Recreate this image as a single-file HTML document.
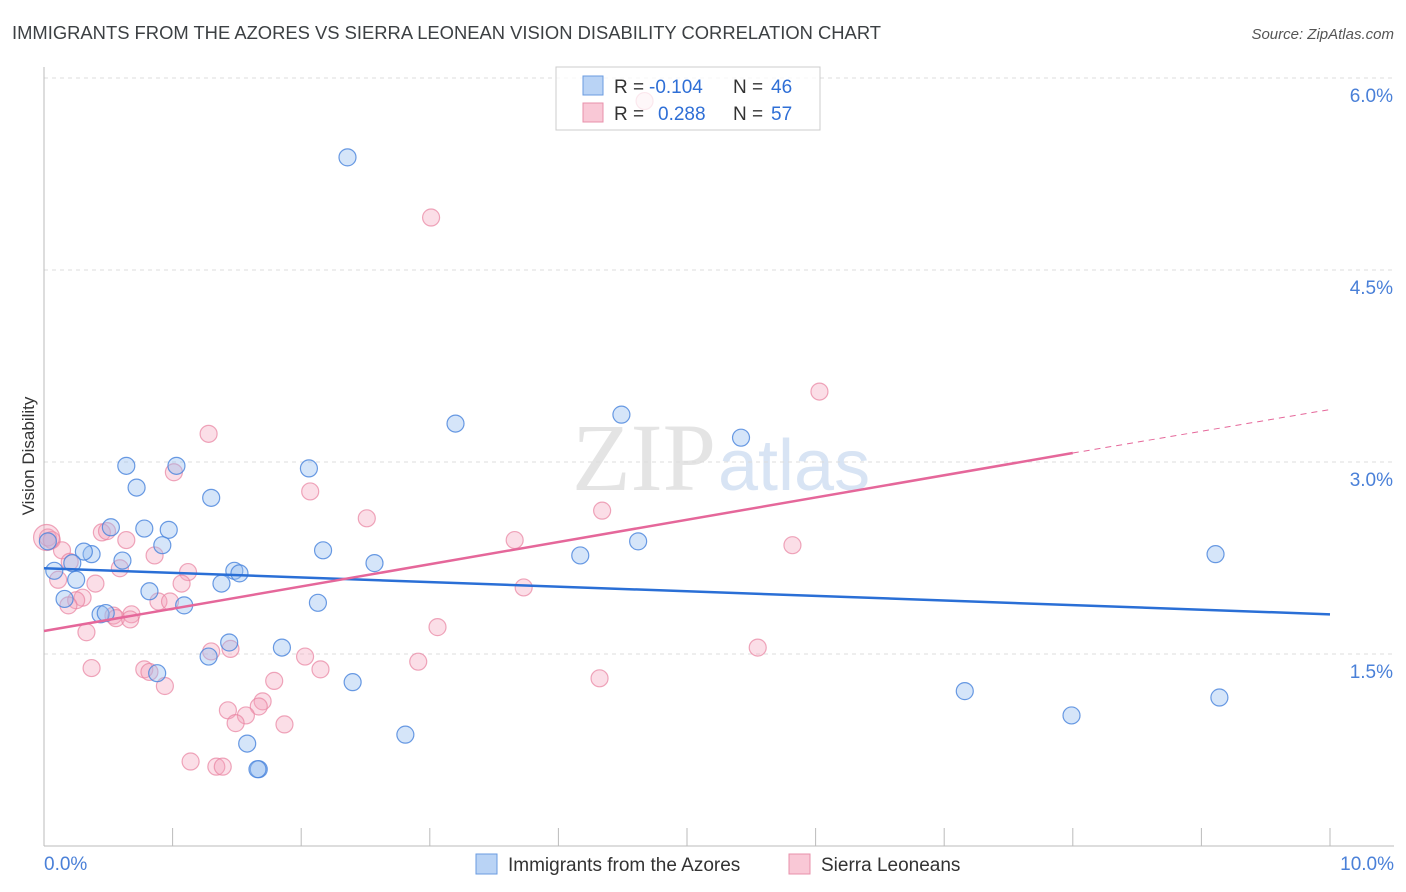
<!DOCTYPE html>
<html><head><meta charset="utf-8"><style>
body{margin:0;background:#fff;font-family:"Liberation Sans",sans-serif;}
svg{display:block}
</style></head><body>
<svg id="chart" width="1406" height="892" xmlns="http://www.w3.org/2000/svg" font-family="Liberation Sans, sans-serif">
<text x="12" y="39" font-size="18" fill="#3c4043" textLength="869" lengthAdjust="spacingAndGlyphs">IMMIGRANTS FROM THE AZORES VS SIERRA LEONEAN VISION DISABILITY CORRELATION CHART</text>
<text x="1394" y="39" font-size="15" fill="#555" font-style="italic" text-anchor="end">Source: ZipAtlas.com</text>
<text x="716" y="490" font-size="96" fill="#e4e4e4" text-anchor="end" font-family="Liberation Serif, serif">ZIP</text>
<text x="718" y="490" font-size="72" fill="#d8e4f4">atlas</text>
<g id="grid"></g>
<g id="axes"></g>
<g id="pts"></g>
<g id="trend"></g>
<text transform="translate(34,456) rotate(-90)" font-size="17" fill="#333" text-anchor="middle">Vision Disability</text>
<g>
<rect x="556" y="67" width="264" height="63" fill="rgba(255,255,255,0.75)" stroke="#ccc"/>
<rect x="583" y="76" width="20" height="19" fill="#b9d3f5" stroke="#6a9be0"/>
<rect x="583" y="103" width="20" height="19" fill="#f9c8d6" stroke="#e890ab"/>
<text x="614" y="93" font-size="19" fill="#333">R =</text>
<text x="649" y="93" font-size="19" fill="#2f6fd6">-0.104</text>
<text x="733" y="93" font-size="19" fill="#333">N =</text>
<text x="771" y="93" font-size="19" fill="#2f6fd6">46</text>
<text x="614" y="120" font-size="19" fill="#333">R =</text>
<text x="658" y="120" font-size="19" fill="#2f6fd6">0.288</text>
<text x="733" y="120" font-size="19" fill="#333">N =</text>
<text x="771" y="120" font-size="19" fill="#2f6fd6">57</text>
</g>
<g>
<rect x="476" y="854" width="21" height="20" fill="#b9d3f5" stroke="#6a9be0"/>
<text x="508" y="871" font-size="19" fill="#333">Immigrants from the Azores</text>
<rect x="789" y="854" width="21" height="20" fill="#f9c8d6" stroke="#e890ab"/>
<text x="821" y="871" font-size="19" fill="#333">Sierra Leoneans</text>
</g>
</svg>
<script>
const yTicks=[1.5,3.0,4.5,6.0];
const xLabels=["0.0%","10.0%"];
const blueX=[2.36,3.20,4.49,5.42,0.64,1.03,2.06,0.72,1.30,0.52,0.78,0.97,0.03,0.92,4.62,0.37,0.31,2.17,4.17,9.11,0.22,0.61,2.57,1.48,1.52,0.08,0.25,1.38,0.82,0.16,2.13,1.09,0.44,0.48,1.44,1.85,1.28,0.88,2.40,7.16,9.14,7.99,2.81,1.58,1.67,1.66];
const blueY=[5.38,3.30,3.37,3.19,2.97,2.97,2.95,2.80,2.72,2.49,2.48,2.47,2.38,2.35,2.38,2.28,2.30,2.31,2.27,2.28,2.21,2.23,2.21,2.15,2.13,2.15,2.08,2.05,1.99,1.93,1.90,1.88,1.81,1.82,1.59,1.55,1.48,1.35,1.28,1.21,1.16,1.02,0.87,0.80,0.60,0.60];
const pinkX=[4.67,3.01,6.03,1.28,1.01,2.07,2.51,4.34,0.45,0.49,0.03,0.06,3.66,5.82,0.64,0.14,0.86,0.59,0.20,1.12,0.11,0.40,1.07,3.73,0.30,0.25,0.89,0.98,0.19,0.54,0.68,0.56,0.67,0.33,3.06,1.30,1.45,5.55,2.03,0.37,0.78,0.82,2.15,2.91,0.94,1.79,4.32,1.70,1.43,1.67,1.57,1.49,1.87,1.14,1.34,1.39,0.02];
const pinkY=[5.82,4.91,3.55,3.22,2.92,2.77,2.56,2.62,2.45,2.46,2.41,2.39,2.39,2.35,2.39,2.31,2.27,2.17,2.22,2.14,2.08,2.05,2.05,2.02,1.94,1.92,1.91,1.91,1.88,1.80,1.81,1.78,1.77,1.67,1.71,1.52,1.54,1.55,1.48,1.39,1.38,1.36,1.38,1.44,1.25,1.29,1.31,1.13,1.06,1.09,1.02,0.96,0.95,0.66,0.62,0.62,2.41];
const blueTrend=[2.17,1.81];
const pinkTrend=[1.68,3.07,3.41];
const NS="http://www.w3.org/2000/svg";
const xs=v=>44+v*128.6, ys=v=>846-v*128;
function mk(tag,attrs,parent){const e=document.createElementNS(NS,tag);for(const k in attrs)e.setAttribute(k,attrs[k]);document.getElementById(parent).appendChild(e);return e;}
yTicks.forEach(t=>{
 const g=mk('line',{x1:44,x2:1394,y1:ys(t),y2:ys(t),stroke:'#ddd','stroke-dasharray':'4,4'},'grid');
 
 
 const l=mk('text',{x:1393,y:ys(t)+24,'font-size':19,fill:'#4a80d8','text-anchor':'end'},'grid');
 l.textContent=t.toFixed(1)+'%';
 
 
});
const ax=mk('line',{x1:44,x2:44,y1:67,y2:846,stroke:'#bbb'},'axes');


const bx=mk('line',{x1:44,x2:1394,y1:846,y2:846,stroke:'#bbb'},'axes');


for(let i=0;i<=10;i++){const t=mk('line',{x1:xs(i),x2:xs(i),y1:828,y2:846,stroke:'#bbb'},'axes');
 
 }
xLabels.forEach((s,i)=>{const t=mk('text',{x:i?1394:44,y:870,'font-size':19,fill:'#4a80d8','text-anchor':i?'end':'start'},'axes');t.textContent=s;
 
 });
pinkX.forEach((x,i)=>{const big=i===pinkX.length-1;const c=mk('circle',{cx:xs(x),cy:ys(pinkY[i]),r:big?13:8.5,fill:'rgba(244,160,186,0.35)',stroke:'rgba(232,130,160,0.7)','stroke-width':1.2},'pts');
 
 });
blueX.forEach((x,i)=>{const c=mk('circle',{cx:xs(x),cy:ys(blueY[i]),r:8.5,fill:'rgba(150,190,240,0.4)',stroke:'rgba(70,130,220,0.8)','stroke-width':1.2},'pts');
 
 });
const bt=mk('line',{x1:xs(0),y1:ys(blueTrend[0]),x2:xs(10),y2:ys(blueTrend[1]),stroke:'#2a6fd6','stroke-width':2.5},'trend');


const pt=mk('line',{x1:xs(0),y1:ys(pinkTrend[0]),x2:xs(8),y2:ys(pinkTrend[1]),stroke:'#e5679a','stroke-width':2.5},'trend');


const pd=mk('line',{x1:xs(8),y1:ys(pinkTrend[1]),x2:xs(10),y2:ys(pinkTrend[2]),stroke:'#e5679a','stroke-width':1,'stroke-dasharray':'6,5'},'trend');


</script>
</body></html>
